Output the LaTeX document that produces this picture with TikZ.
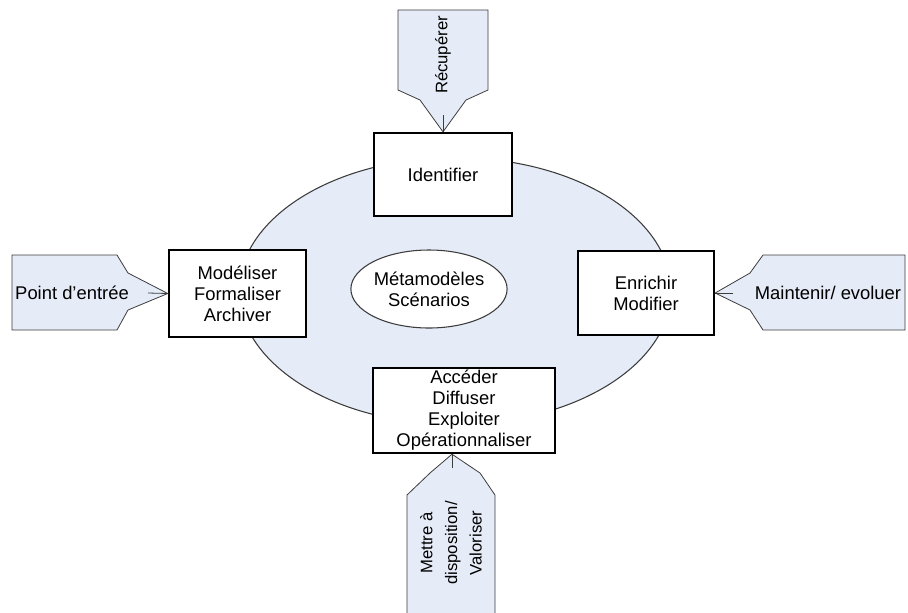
\documentclass[tikz,border=0pt]{standalone}
\usepackage{fontspec}
\setmainfont{Liberation Sans}
\usetikzlibrary{shapes.geometric}

\begin{document}
\begin{tikzpicture}[x=0.75pt,y=-0.75pt]
    \definecolor{cyclefill}{RGB}{230,236,247}
    \definecolor{edgec}{RGB}{60,60,60}
    \tikzset{
      task/.style={draw=black, line width=1.8pt, fill=white, align=center,
        inner sep=0pt, font=\fontsize{13.8}{15.75}\selectfont},
      bubble/.style={ellipse, draw=edgec, line width=0.8pt, inner sep=0pt,
        align=center, font=\fontsize{13.8}{15.75}\selectfont},
      callout/.style={draw=edgec, line width=0.6pt, fill=cyclefill},
      notetxt/.style={align=center, inner sep=0pt,
        font=\fontsize{13.8}{15.75}\selectfont},
      uptxt/.style={notetxt, rotate=90, font=\fontsize{12.5}{18.5}\selectfont}
    }

    \useasboundingbox (0,0) rectangle (908,612);

    \node[bubble, fill=cyclefill, minimum width=324pt, minimum height=200pt]
      (cycle) at (455,291) {};
    \node[bubble, fill=white, minimum width=117pt, minimum height=58.5pt]
      (core) at (429,289) {M\'etamod\`eles\\Sc\'enarios};

    \node[task, minimum width=103.5pt, minimum height=62.25pt]
      (ident) at (443,174.5) {Identifier};
    \node[task, minimum width=102.75pt, minimum height=65.25pt]
      (model) at (237.5,293.5) {Mod\'eliser\\Formaliser\\Archiver};
    \node[task, minimum width=102pt, minimum height=63pt]
      (enrich) at (646,293) {Enrichir\\Modifier};
    \node[task, minimum width=136.5pt, minimum height=63.75pt]
      (acces) at (464,410.5) {Acc\'eder\\Diffuser\\Exploiter\\Op\'erationnaliser};

    \coordinate (recupend) at (443,115);
    \coordinate (entreeend) at (148,293);
    \coordinate (maintend) at (733,293);
    \coordinate (dispoend) at (452,468);

    \draw[callout] (398,10) -- (488,10) -- (488,90) -- (466,100) -- (ident.north)
      -- (420,100) -- (398,90) -- cycle;
    \draw[callout] (12,255) -- (117,255) -- (128,273) -- (model.west)
      -- (128,310) -- (117,330) -- (12,330) -- cycle;
    \draw[callout] (905,255) -- (763,255) -- (750,273) -- (enrich.east)
      -- (750,310) -- (763,330) -- (905,330) -- cycle;
    \draw[callout] (407,615) -- (407,495) -- (430,473) -- (acces.south -| dispoend)
      -- (480,473) -- (495,495) -- (495,615) -- cycle;

    \node[uptxt] (recup) at (443,55) {R\'ecup\'erer};
    \node[notetxt] (entree) at (72,293) {Point d'entr\'ee};
    \node[notetxt] (maint) at (828,293) {Maintenir/ evoluer};
    \node[uptxt] (dispo) at (451,543) {Mettre \`a\\disposition/\\Valoriser};

    \draw[edgec, line width=0.6pt] (recupend) -- (ident.north);
    \draw[edgec, line width=0.6pt] (entreeend) -- (model.west);
    \draw[edgec, line width=0.6pt] (maintend) -- (enrich.east);
    \draw[edgec, line width=0.6pt] (dispoend) -- (acces.south -| dispoend);
  \end{tikzpicture}
\end{document}
